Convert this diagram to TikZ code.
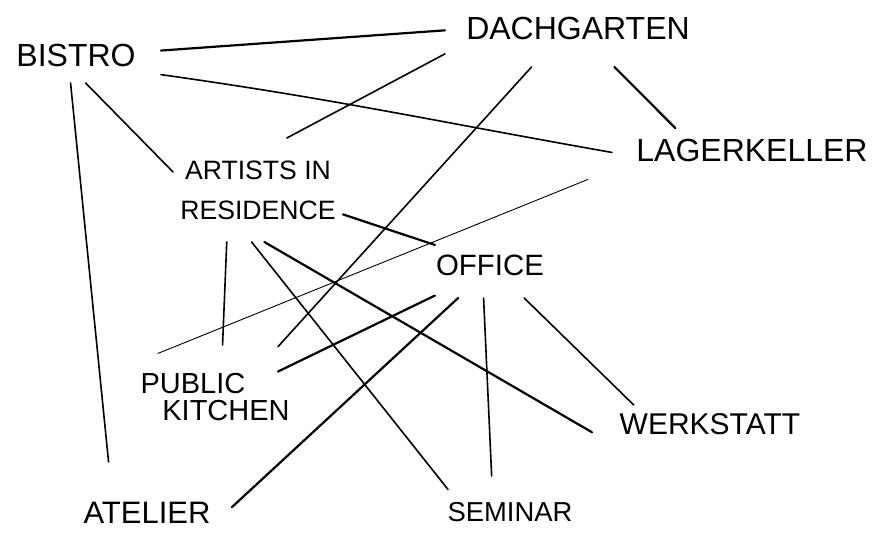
\documentclass[tikz,border=0pt]{standalone}
\usepackage{fontspec}
\setmainfont{Liberation Sans}

\begin{document}
\begin{tikzpicture}[x=0.5pt, y=-0.5pt]

% -------------------------------------------------------
% Layout parameters
% -------------------------------------------------------
\def\lwd{0.8pt}     % normal pencil line
\def\lwt{1.1pt}     % pressed harder
\def\lwf{0.45pt}    % faint line

\newcommand{\lbl}[1]{\makebox[0pt]{#1}} % label does not widen the room box

\tikzstyle{room} = [rectangle, inner sep=0pt, outer sep=0pt, align=center, font=\fontsize{16}{19}\selectfont];
\tikzstyle{link} = [line width=\lwd, line cap=round];
\tikzstyle{strong} = [line width=\lwt, line cap=round];
\tikzstyle{faint} = [line width=\lwf, line cap=round];

\useasboundingbox (0,0) rectangle (878,537);

%%%%%% ROOMS
% boxes are sized so the connections stop short of the words
\node[room, minimum width=85pt,  minimum height=28pt] (bistro)   at (76,55)   {\lbl{BISTRO}};
\node[room, minimum width=133pt, minimum height=39pt] (dach)     at (578,28)  {\lbl{DACHGARTEN}};
\node[room, minimum width=140pt, minimum height=22pt] (lager)    at (752,150) {\lbl{LAGERKELLER}};
\node[room, minimum width=85pt,  minimum height=52pt,
      font=\fontsize{13.3}{20}\selectfont]            (artists)  at (258,190) {\lbl{ARTISTS IN}\\\lbl{RESIDENCE}};
\node[room, minimum width=55pt,  minimum height=33pt,
      font=\fontsize{14.7}{18}\selectfont]            (office)   at (490,265) {\lbl{OFFICE}};
\node[room, minimum width=60pt,  minimum height=52pt,
      font=\fontsize{14.5}{13.5}\selectfont]          (kitchen)  at (218,397) {\lbl{\hspace{-25pt}PUBLIC}\\\lbl{\hspace{8pt}KITCHEN}};
\node[room, minimum width=118pt, minimum height=19pt,
      font=\fontsize{15}{18}\selectfont]              (werkstatt) at (710,424) {\lbl{WERKSTATT}};
\node[room, minimum width=85pt,  minimum height=51pt,
      font=\fontsize{15.5}{18}\selectfont]            (atelier)  at (147,513) {\lbl{ATELIER}};
\node[room, minimum width=62pt,  minimum height=36pt,
      font=\fontsize{13.7}{18}\selectfont]            (seminar)  at (510,512) {\lbl{SEMINAR}};

%%%%%% CONNECTIONS
% bistro
\draw[strong] (bistro.3)    -- (dach.181);
\draw[link]   (bistro.-13)  to[out=-8, in=170] (lager.181);
\draw[link]   (bistro.-71)  -- (artists.168);
\draw[link]   (bistro.-101) -- (atelier.127);

% dachgarten
\draw[link]   (dach.191) -- (artists.61);
\draw[link]   (dach.220) -- (kitchen.40);
\draw[strong] (dach.-47) -- (lager.164);

% lagerkeller
\draw[faint, shorten <=13pt] (lager.188) -- (kitchen.144);

% artists in residence
\draw[strong] (artists.-16)  -- (office.160);
\draw[link]   (artists.-121) -- (kitchen.85);
\draw[link]   (artists.-97)  -- (seminar.160);
\draw[strong] (artists.-83)  -- (werkstatt.184);

% office
\draw[strong] (office.-151) -- (kitchen.23);
\draw[strong] (office.-134) -- (atelier.4);
\draw[link]   (office.-101) -- (seminar.117);
\draw[link]   (office.-44)  -- (werkstatt.166);

\end{tikzpicture}
\end{document}
